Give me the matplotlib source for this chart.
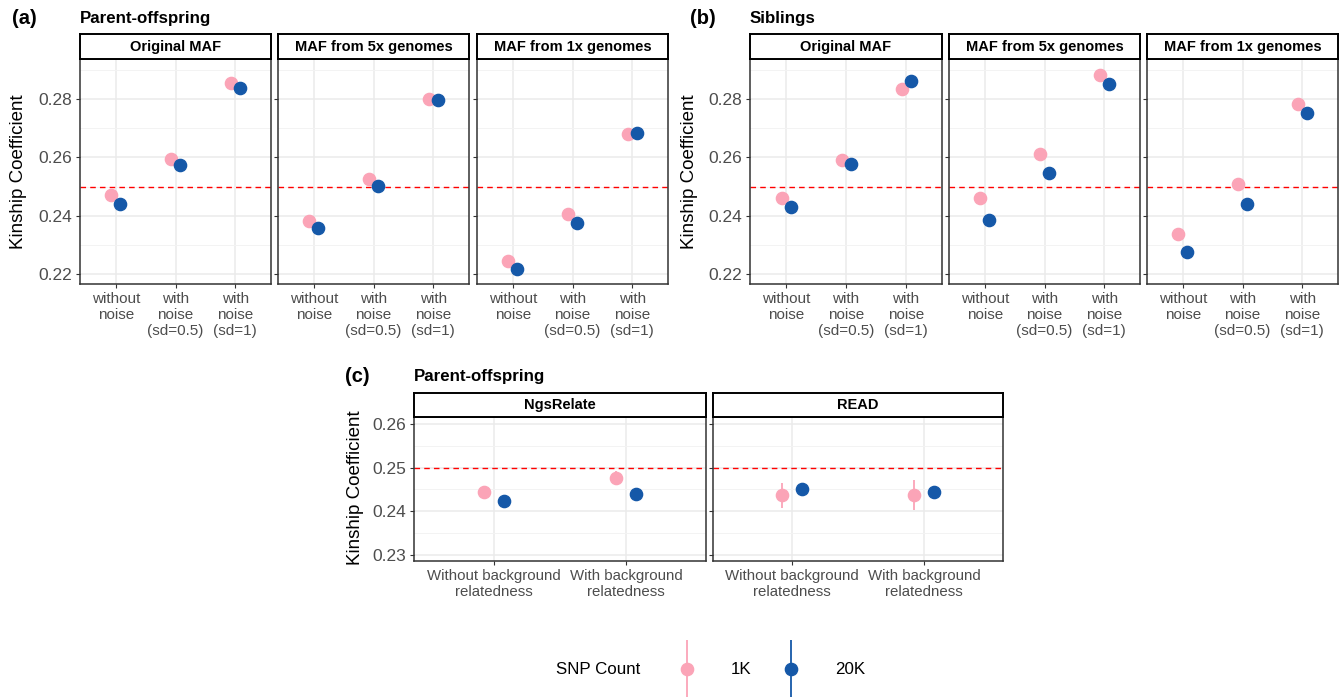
import matplotlib.pyplot as plt
from matplotlib.container import ErrorbarContainer
from matplotlib.legend_handler import HandlerErrorbar
import numpy as np

plt.rcParams['font.family'] = ['Liberation Sans', 'DejaVu Sans']

# data
noise_labels = ["without\nnoise", "with\nnoise\n(sd=0.5)", "with\nnoise\n(sd=1)"]
maf_panels = ["Original MAF", "MAF from 5x genomes", "MAF from 1x genomes"]

po_1k = [[0.2470, 0.2593, 0.2854], [0.2382, 0.2526, 0.2801], [0.2245, 0.2406, 0.2681]]
po_20k = [[0.2439, 0.2573, 0.2839], [0.2357, 0.2503, 0.2797], [0.2216, 0.2376, 0.2683]]
sib_1k = [[0.2461, 0.2591, 0.2835], [0.2459, 0.2612, 0.2883], [0.2337, 0.2509, 0.2783]]
sib_20k = [[0.2431, 0.2578, 0.2862], [0.2386, 0.2545, 0.2851], [0.2277, 0.2440, 0.2753]]

bg_labels = ["Without background\nrelatedness", "With background\nrelatedness"]
methods = ["NgsRelate", "READ"]
c_1k = [[0.2443, 0.2475], [0.2436, 0.2437]]
c_1k_err = [[0.0013, 0.0016], [0.0028, 0.0034]]
c_20k = [[0.2423, 0.2439], [0.2451, 0.2445]]
c_20k_err = [[0.0005, 0.0005], [0.0005, 0.0005]]

snp_labels = ["1K", "20K"]
PINK = "#FBA4B7"
BLUE = "#1558A8"
GRAY = "#4D4D4D"

W, H = 1343, 700
fig = plt.figure(figsize=(W / 100, H / 100), dpi=100)


def box(l, t, r, b):
    return [l / W, 1 - b / H, (r - l) / W, (b - t) / H]


def facet(l, t, r, b, strip_top, label, cats, ylim, major, minor, show_y, xfs):
    ax = fig.add_axes(box(l, t, r, b))
    n = len(cats)
    ax.set_xlim(0.4, n + 0.6)
    ax.set_ylim(*ylim)
    ax.set_xticks(np.arange(1, n + 1))
    ax.set_xticklabels(cats, fontsize=xfs, color=GRAY, linespacing=1.2)
    ax.set_yticks(major)
    ax.set_yticks(minor, minor=True)
    ax.set_yticklabels([f"{v:.2f}" for v in major] if show_y else [],
                       fontsize=12.5, color=GRAY)
    ax.tick_params(axis="y", which="minor", length=0)
    ax.tick_params(axis="both", which="major", length=3, width=0.8,
                   color="#333333", pad=2.5)
    ax.grid(True, which="major", color="#EBEBEB", lw=1.1, zorder=0)
    ax.grid(True, which="minor", axis="y", color="#F3F3F3", lw=0.7, zorder=0)
    ax.set_axisbelow(True)
    for s in ax.spines.values():
        s.set_color("#333333")
        s.set_linewidth(1.1)
    ax.axhline(0.25, color="red", ls=(0, (4, 3)), lw=1.0, zorder=1)
    # strip
    sa = fig.add_axes(box(l, strip_top, r, t))
    sa.set_xticks([])
    sa.set_yticks([])
    for s in sa.spines.values():
        s.set_color("black")
        s.set_linewidth(1.4)
    sa.text(0.5, 0.5, label, ha="center", va="center", fontsize=10.5,
            fontweight="bold", transform=sa.transAxes)
    return ax


dodge = 0.075
ylim_ab = (0.2166, 0.2937)
major_ab = [0.22, 0.24, 0.26, 0.28]
minor_ab = [0.23, 0.25, 0.27, 0.29]

rows = [
    ([(80, 271), (278, 469), (477, 668)], po_1k, po_20k),
    ([(750, 942), (949, 1140), (1147, 1338)], sib_1k, sib_20k),
]
for lefts, v1k, v20k in rows:
    for i, (l, r) in enumerate(lefts):
        ax = facet(l, 59, r, 284, 34, maf_panels[i], noise_labels, ylim_ab,
                   major_ab, minor_ab, i == 0, 11)
        x = np.arange(1, 4)
        ax.plot(x - dodge, v1k[i], "o", color=PINK, ms=8.8, zorder=3)
        ax.plot(x + dodge, v20k[i], "o", color=BLUE, ms=8.8, zorder=4)

handles = None
for i, (l, r) in enumerate([(414, 706), (713, 1003)]):
    ax = facet(l, 417, r, 561, 393, methods[i], bg_labels, (0.22855, 0.2616),
               [0.23, 0.24, 0.25, 0.26], [0.235, 0.245, 0.255], i == 0, 10.8)
    x = np.arange(1, 3)
    e1 = ax.errorbar(x - dodge, c_1k[i], yerr=c_1k_err[i], fmt="o", color=PINK,
                     ms=8.8, elinewidth=1.3, capsize=0, zorder=3)
    e2 = ax.errorbar(x + dodge, c_20k[i], yerr=c_20k_err[i], fmt="o", color=BLUE,
                     ms=8.8, elinewidth=1.3, capsize=0, zorder=4)
    handles = [e1, e2]

# titles
fig.text(12 / W, 1 - 18 / H, "(a)", fontsize=14.5, fontweight="bold", va="center")
fig.text(80 / W, 1 - 18 / H, "Parent-offspring", fontsize=12.2, fontweight="bold", va="center")
fig.text(690 / W, 1 - 18 / H, "(b)", fontsize=14.5, fontweight="bold", va="center")
fig.text(750 / W, 1 - 18 / H, "Siblings", fontsize=12.2, fontweight="bold", va="center")
fig.text(345 / W, 1 - 377 / H, "(c)", fontsize=14.5, fontweight="bold", va="center")
fig.text(414 / W, 1 - 377 / H, "Parent-offspring", fontsize=12.2, fontweight="bold", va="center")

fig.text(19 / W, 1 - 172 / H, "Kinship Coefficient", fontsize=13.5, rotation=90,
         ha="center", va="center")
fig.text(689 / W, 1 - 172 / H, "Kinship Coefficient", fontsize=13.5, rotation=90,
         ha="center", va="center")
fig.text(355 / W, 1 - 488 / H, "Kinship Coefficient", fontsize=13.5, rotation=90,
         ha="center", va="center")

# legend
fig.text(556 / W, 1 - 670 / H, "SNP Count", fontsize=12.2, va="center")
fig.legend(handles, snp_labels, loc="center left",
           bbox_to_anchor=(655 / W, 1 - 670 / H), ncol=2, frameon=False,
           fontsize=12.2, handlelength=2.0, handletextpad=1.6, columnspacing=1.3,
           handler_map={ErrorbarContainer: HandlerErrorbar(yerr_size=1.7)})

fig.savefig("out.png", dpi=100)
